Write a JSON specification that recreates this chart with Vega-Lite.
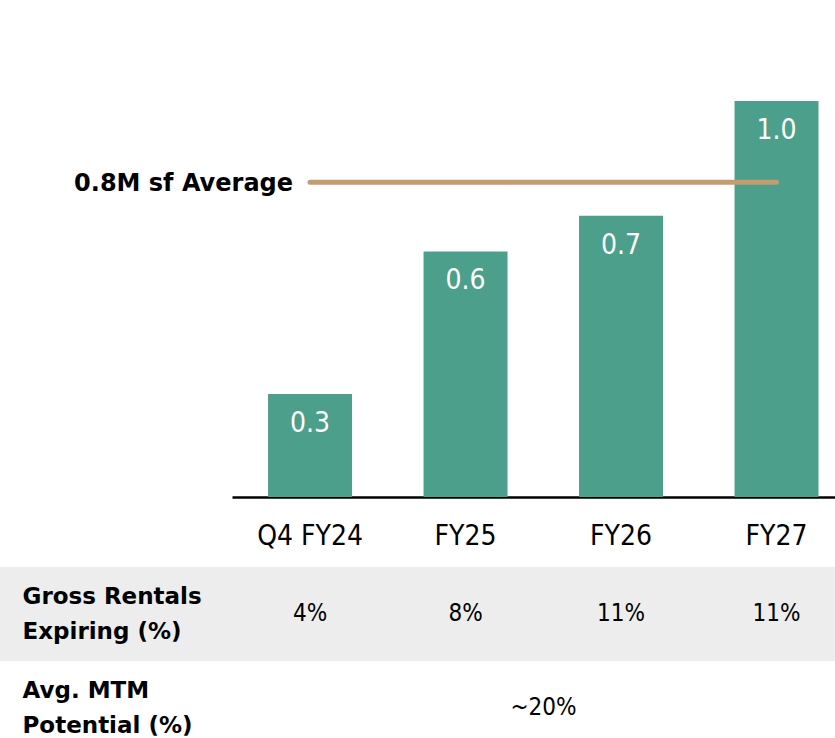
{
  "$schema": "https://vega.github.io/schema/vega-lite/v6.json",
  "width": 835,
  "height": 497,
  "autosize": {"type": "none"},
  "padding": {"left": 0, "top": 0, "right": 0, "bottom": 241},
  "background": "white",
  "title": {
    "text": "(M sf)",
    "anchor": "start",
    "frame": "group",
    "baseline": "alphabetic",
    "offset": -5,
    "dx": 18,
    "font": "DejaVu Sans",
    "fontSize": 23,
    "fontWeight": "bold",
    "color": "black"
  },
  "config": {"view": {"stroke": null}, "font": "DejaVu Sans Condensed"},
  "datasets": {
    "bars": [
      {"period": "Q4 FY24", "value": 0.26, "label": "0.3"},
      {"period": "FY25", "value": 0.62, "label": "0.6"},
      {"period": "FY26", "value": 0.71, "label": "0.7"},
      {"period": "FY27", "value": 1.0, "label": "1.0"}
    ],
    "avg": [
      {"label": "0.8M sf Average", "value": 0.795, "from": "Q4 FY24", "to": "FY27"}
    ],
    "rows": [
      {"row": "Gross Rentals|Expiring (%)"},
      {"row": "Avg. MTM|Potential (%)"}
    ],
    "gross": [
      {"row": "Gross Rentals|Expiring (%)", "period": "Q4 FY24", "text": "4%"},
      {"row": "Gross Rentals|Expiring (%)", "period": "FY25", "text": "8%"},
      {"row": "Gross Rentals|Expiring (%)", "period": "FY26", "text": "11%"},
      {"row": "Gross Rentals|Expiring (%)", "period": "FY27", "text": "11%"}
    ],
    "mtm": [
      {"row": "Avg. MTM|Potential (%)", "from": "FY25", "to": "FY26", "text": "~20%"}
    ]
  },
  "resolve": {"scale": {"y": "independent", "color": "independent"}, "axis": {"y": "independent"}},
  "layer": [
    {
      "encoding": {},
      "layer": [
        {
          "data": {"name": "bars"},
          "mark": {"type": "bar", "color": "#4C9F8A"},
          "encoding": {
            "x": {
              "field": "period",
              "type": "nominal",
              "scale": {
                "domain": ["Q4 FY24", "FY25", "FY26", "FY27"],
                "range": [232, 835],
                "paddingInner": 0.46,
                "paddingOuter": 0.169,
                "align": 0.686
              },
              "axis": {
                "title": null,
                "orient": "bottom",
                "domainColor": "black",
                "domainWidth": 2.5,
                "ticks": false,
                "tickSize": 0,
                "grid": false,
                "labelFont": "DejaVu Sans Condensed",
                "labelFontSize": 28,
                "labelColor": "black",
                "labelBaseline": "alphabetic",
                "labelPadding": 47,
                "labelAngle": 0
              }
            },
            "y": {
              "field": "value",
              "type": "quantitative",
              "scale": {"domain": [0, 1.255], "nice": false, "zero": true},
              "axis": null
            }
          }
        },
        {
          "data": {"name": "bars"},
          "mark": {
            "type": "text",
            "color": "white",
            "font": "DejaVu Sans Condensed",
            "fontSize": 28,
            "baseline": "alphabetic",
            "dy": 38
          },
          "encoding": {
            "x": {"field": "period", "type": "nominal"},
            "y": {"field": "value", "type": "quantitative"},
            "text": {"field": "label"}
          }
        },
        {
          "data": {"name": "avg"},
          "mark": {"type": "rule", "color": "#C49C72", "strokeWidth": 5, "strokeCap": "round"},
          "encoding": {
            "x": {"field": "from", "type": "nominal"},
            "x2": {"field": "to"},
            "y": {"field": "value", "type": "quantitative"}
          }
        },
        {
          "data": {"name": "avg"},
          "mark": {
            "type": "text",
            "font": "DejaVu Sans",
            "fontWeight": "bold",
            "fontSize": 24,
            "color": "black",
            "align": "right",
            "baseline": "middle",
            "dx": -17,
            "dy": 2
          },
          "encoding": {
            "x": {"field": "from", "type": "nominal"},
            "y": {"field": "value", "type": "quantitative"},
            "text": {"field": "label"}
          }
        }
      ]
    },
    {
      "encoding": {
        "y": {
          "field": "row",
          "type": "nominal",
          "scale": {
            "domain": ["Gross Rentals|Expiring (%)", "Avg. MTM|Potential (%)"],
            "range": [567, 755],
            "paddingInner": 0,
            "paddingOuter": 0
          },
          "axis": {
            "orient": "left",
            "offset": -22,
            "title": null,
            "domain": false,
            "ticks": false,
            "tickSize": 0,
            "grid": false,
            "labelPadding": 0,
            "labelOffset": -17.5,
            "labelAlign": "left",
            "labelBaseline": "middle",
            "labelFont": "DejaVu Sans",
            "labelFontWeight": "bold",
            "labelFontSize": 23,
            "labelColor": "black",
            "labelLineHeight": 35,
            "labelLimit": 0,
            "labelExpr": "split(datum.value, '|')"
          }
        }
      },
      "layer": [
        {
          "data": {"name": "rows"},
          "mark": {"type": "rect"},
          "encoding": {
            "color": {
              "field": "row",
              "type": "nominal",
              "scale": {
                "domain": ["Gross Rentals|Expiring (%)", "Avg. MTM|Potential (%)"],
                "range": ["#EDEDED", "#FFFFFF"]
              },
              "legend": null
            }
          }
        },
        {
          "data": {"name": "gross"},
          "mark": {
            "type": "text",
            "font": "DejaVu Sans Condensed",
            "fontSize": 24,
            "color": "black",
            "baseline": "middle"
          },
          "encoding": {
            "x": {"field": "period", "type": "nominal"},
            "text": {"field": "text"}
          }
        },
        {
          "data": {"name": "mtm"},
          "mark": {
            "type": "text",
            "font": "DejaVu Sans Condensed",
            "fontSize": 24,
            "color": "black",
            "baseline": "middle",
            "dx": 78
          },
          "encoding": {
            "x": {"field": "from", "type": "nominal"},
            "text": {"field": "text"}
          }
        }
      ]
    }
  ]
}
